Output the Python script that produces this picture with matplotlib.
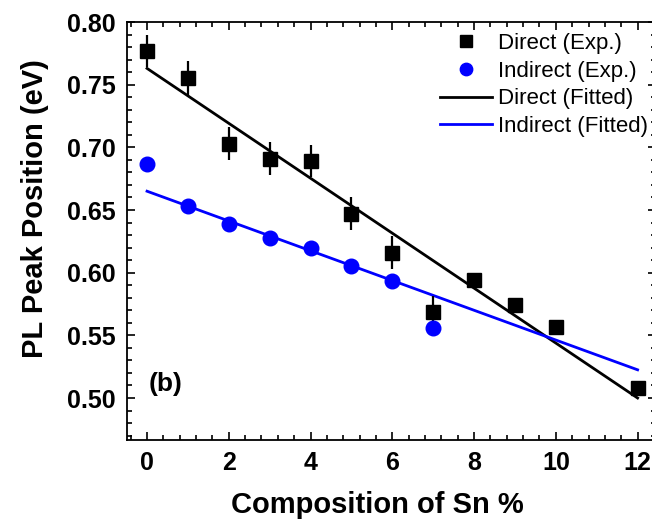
import matplotlib
matplotlib.use('Agg')
import matplotlib.pyplot as plt
from matplotlib.ticker import MultipleLocator

plt.rcParams['font.family'] = ['Liberation Sans', 'DejaVu Sans']

# composition of Sn (%)
sn_direct = [0, 1, 2, 3, 4, 5, 6, 7, 8, 9, 10, 12]
pl_direct = [0.777, 0.755, 0.703, 0.691, 0.689, 0.647, 0.616, 0.569, 0.594, 0.574, 0.557, 0.508]
err_direct = [0.013, 0.014, 0.013, 0.013, 0.013, 0.013, 0.013, 0.0125, 0, 0, 0, 0]

sn_indirect = [0, 1, 2, 3, 4, 5, 6, 7]
pl_indirect = [0.687, 0.653, 0.639, 0.628, 0.6195, 0.605, 0.5935, 0.556]

# fitted lines (end points)
fit_x = [0, 12]
fit_direct = [0.763, 0.500]
fit_indirect = [0.665, 0.5225]

fig = plt.figure(figsize=(6.52, 5.25), dpi=100)
ax = fig.add_axes([127 / 652, 85 / 525, 529 / 652, 418 / 525])

ax.plot(fit_x, fit_direct, color='black', lw=2, label='Direct (Fitted)', zorder=2)
ax.plot(fit_x, fit_indirect, color='#0000ff', lw=2, label='Indirect (Fitted)', zorder=2)

ax.errorbar(sn_direct, pl_direct, yerr=err_direct, fmt='none', ecolor='black',
            elinewidth=1.6, capsize=0, zorder=3)
ax.plot(sn_direct, pl_direct, 's', color='black', ms=10.5, label='Direct (Exp.)', zorder=4)
ax.plot(sn_indirect, pl_indirect, 'o', color='#0000ff', ms=10.5, label='Indirect (Exp.)', zorder=4)

ax.set_xlim(-0.49, 12.45)
ax.set_ylim(0.4665, 0.80)
ax.xaxis.set_major_locator(MultipleLocator(2))
ax.xaxis.set_minor_locator(MultipleLocator(0.4))
ax.yaxis.set_major_locator(MultipleLocator(0.05))
ax.yaxis.set_minor_locator(MultipleLocator(0.01))
ax.yaxis.set_major_formatter(plt.FormatStrFormatter('%.2f'))

ax.tick_params(which='both', direction='in', top=True, right=True, width=1.2)
ax.tick_params(which='major', length=6, labelsize=18, pad=8)
ax.tick_params(which='minor', length=3.5)
for lbl in ax.get_xticklabels() + ax.get_yticklabels():
    lbl.set_fontweight('bold')
for sp in ax.spines.values():
    sp.set_linewidth(1.3)

ax.set_xlabel('Composition of Sn %', fontsize=21, fontweight='bold')
ax.set_ylabel('PL Peak Position (eV)', fontsize=21, fontweight='bold')
ax.xaxis.set_label_coords(0.473, -0.121)
ax.yaxis.set_label_coords(-0.147, 0.553)

ax.text(0.05, 0.511, '(b)', fontsize=19, fontweight='bold', ha='left', va='center')

handles, labels = ax.get_legend_handles_labels()
order = [2, 3, 0, 1]
leg = ax.legend([handles[i] for i in order], [labels[i] for i in order],
                loc='upper left', bbox_to_anchor=(440 / 652, 1 - 33 / 525),
                bbox_transform=fig.transFigure, frameon=False, fontsize=16,
                handlelength=2.35, handletextpad=0.25, labelspacing=0.3,
                borderaxespad=0, borderpad=0, markerscale=0.85)

fig.savefig('out.png', dpi=100)
